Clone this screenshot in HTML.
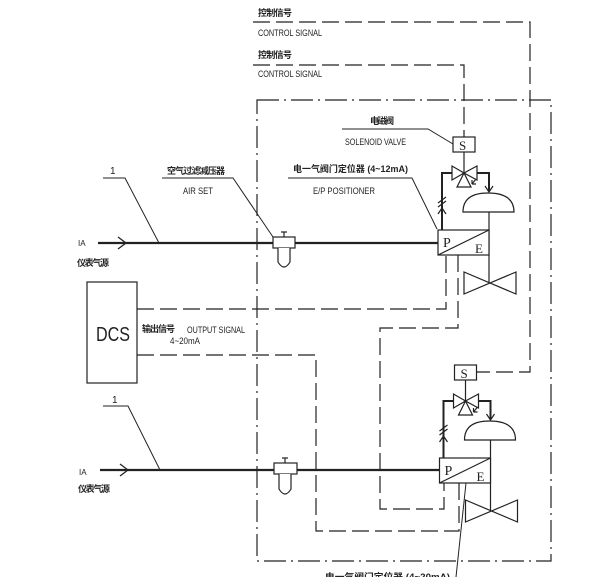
<!DOCTYPE html>
<html><head><meta charset="utf-8"><style>
html,body{margin:0;padding:0;background:#fff;}
svg{display:block;}
text{font-family:"Liberation Sans","Noto Sans CJK SC",sans-serif;fill:#222;}
text.sf{font-family:"Liberation Serif",serif;}
</style></head><body>
<svg width="606" height="577" viewBox="0 0 606 577" xmlns="http://www.w3.org/2000/svg">
<defs>
<g id="asm" fill="none" stroke="#222" stroke-width="1.2">
  <rect x="453" y="137" width="22" height="15" fill="#fff"/>
  <text class="sf" x="459" y="150" font-size="13" stroke="none" fill="#222">S</text>
  <line x1="464" y1="152" x2="464" y2="173"/>
  <polygon points="452,166 452,180 464,173" fill="#fff"/>
  <polygon points="477,166 477,180 464,173" fill="#fff"/>
  <polygon points="464,173 457,187 471,187" fill="#fff"/>
  <polyline points="452,173 442,173 442,230" stroke-width="2"/>
  <polyline points="477,173 489,173 489,191" stroke-width="2"/>
  <polyline points="485,186 489,192 493,186"/>
  <path d="M472,184 l4,-5 M472,184 l4,0 M472,184 l0,-4"/>
  <path d="M463,212 Q463,193 488,193 Q514,193 514,212 Z" fill="#fff"/>
  <line x1="489" y1="212" x2="489" y2="283"/>
  <polyline points="438,214 442,208 446,214"/>
  <path d="M438,203 l8,-6 M438,207 l8,-6"/>
  <rect x="438" y="230" width="51" height="25" fill="#fff"/>
  <line x1="438" y1="255" x2="489" y2="230"/>
  <text class="sf" x="443" y="247" font-size="14" stroke="none" fill="#222">P</text>
  <text class="sf" x="475" y="253" font-size="13" stroke="none" fill="#222">E</text>
  <polygon points="464,272 464,294 516,272 516,294" fill="#fff"/>
</g>
</defs>

<!-- dash-dot enclosure -->
<rect x="257" y="100" width="294" height="461" fill="none" stroke="#222" stroke-width="1.2" stroke-dasharray="22,5,2,5"/>

<!-- control signals -->
<g fill="none" stroke="#222" stroke-width="1.2" stroke-dasharray="17,6">
  <polyline points="253,22 530,22 530,372 477,372"/>
  <polyline points="253,65 464,65 464,137"/>
  <polyline points="137,309 446,309 446,255"/>
  <polyline points="458,255 458,328 380,328 380,509 444,509 444,483"/>
  <polyline points="137,355 316,355 316,531 459,531 459,483"/>
</g>
<text x="258" y="16" font-size="9" font-weight="bold" textLength="34">控制信号</text>
<text x="258" y="36" font-size="9" textLength="64" lengthAdjust="spacingAndGlyphs">CONTROL SIGNAL</text>
<text x="258" y="58" font-size="9" font-weight="bold" textLength="34">控制信号</text>
<text x="258" y="77" font-size="9" textLength="64" lengthAdjust="spacingAndGlyphs">CONTROL SIGNAL</text>

<use href="#asm"/>
<use href="#asm" transform="translate(1.5,228)"/>

<g stroke="#222" fill="none">
  <line x1="98" y1="243" x2="438" y2="243" stroke-width="2.2"/>
  <polyline points="118,237 126,243 118,249" stroke-width="1.3"/>
  <line x1="100" y1="470" x2="440" y2="470" stroke-width="2.2"/>
  <polyline points="120,464 128,470 120,476" stroke-width="1.3"/>
</g>
<g stroke="#222" stroke-width="1.2" fill="#fff">
  <rect x="273" y="237" width="22" height="11"/>
  <path d="M278,248 L278,262 Q284,272 290,262 L290,248"/>
  <line x1="284" y1="232" x2="284" y2="237"/><line x1="281" y1="232" x2="287" y2="232"/>
  <rect x="274" y="463" width="23" height="11"/>
  <path d="M279,474 L279,489 Q285,499 291,489 L291,474"/>
  <line x1="285" y1="458" x2="285" y2="463"/><line x1="282" y1="458" x2="288" y2="458"/>
</g>

<g stroke="#222" stroke-width="1" fill="none">
  <polyline points="103,178 125,178 159,243"/>
  <polyline points="162,178 233,178 273,237"/>
  <polyline points="288,178 412,178 437,229"/>
  <polyline points="342,129 428,129 453,144"/>
  <polyline points="103,406 128,406 160,470"/>
  <polyline points="466,483 456,577"/>
</g>
<text x="110" y="174" font-size="10">1</text>
<text x="167" y="174" font-size="9" font-weight="bold" textLength="58">空气过滤减压器</text>
<text x="183" y="194" font-size="9" textLength="30" lengthAdjust="spacingAndGlyphs">AIR SET</text>
<text x="293" y="172" font-size="9" font-weight="bold" textLength="115" lengthAdjust="spacingAndGlyphs">电一气阀门定位器 (4~12mA)</text>
<text x="313" y="194" font-size="9" textLength="62" lengthAdjust="spacingAndGlyphs">E/P POSITIONER</text>
<text x="370" y="124" font-size="9" font-weight="bold" textLength="24">电磁阀</text>
<text x="345" y="145" font-size="9" textLength="61" lengthAdjust="spacingAndGlyphs">SOLENOID VALVE</text>
<text x="112" y="403" font-size="10">1</text>

<text x="78" y="246" font-size="8">IA</text>
<text x="77" y="266" font-size="9" font-weight="bold" textLength="32">仪表气源</text>
<text x="79" y="475" font-size="8">IA</text>
<text x="78" y="492" font-size="9" font-weight="bold" textLength="32">仪表气源</text>

<rect x="87" y="282" width="50" height="101" fill="#fff" stroke="#222" stroke-width="1.2"/>
<text x="96" y="341" font-size="20" textLength="34" lengthAdjust="spacingAndGlyphs">DCS</text>
<text x="142" y="332" font-size="9" font-weight="bold" textLength="33">输出信号</text>
<text x="187" y="333" font-size="9" textLength="58" lengthAdjust="spacingAndGlyphs">OUTPUT SIGNAL</text>
<text x="170" y="344" font-size="9" textLength="30" lengthAdjust="spacingAndGlyphs">4~20mA</text>

<text x="325" y="580" font-size="9" font-weight="bold" textLength="125" lengthAdjust="spacingAndGlyphs">电一气阀门定位器 (4~20mA)</text>
</svg>
</body></html>
